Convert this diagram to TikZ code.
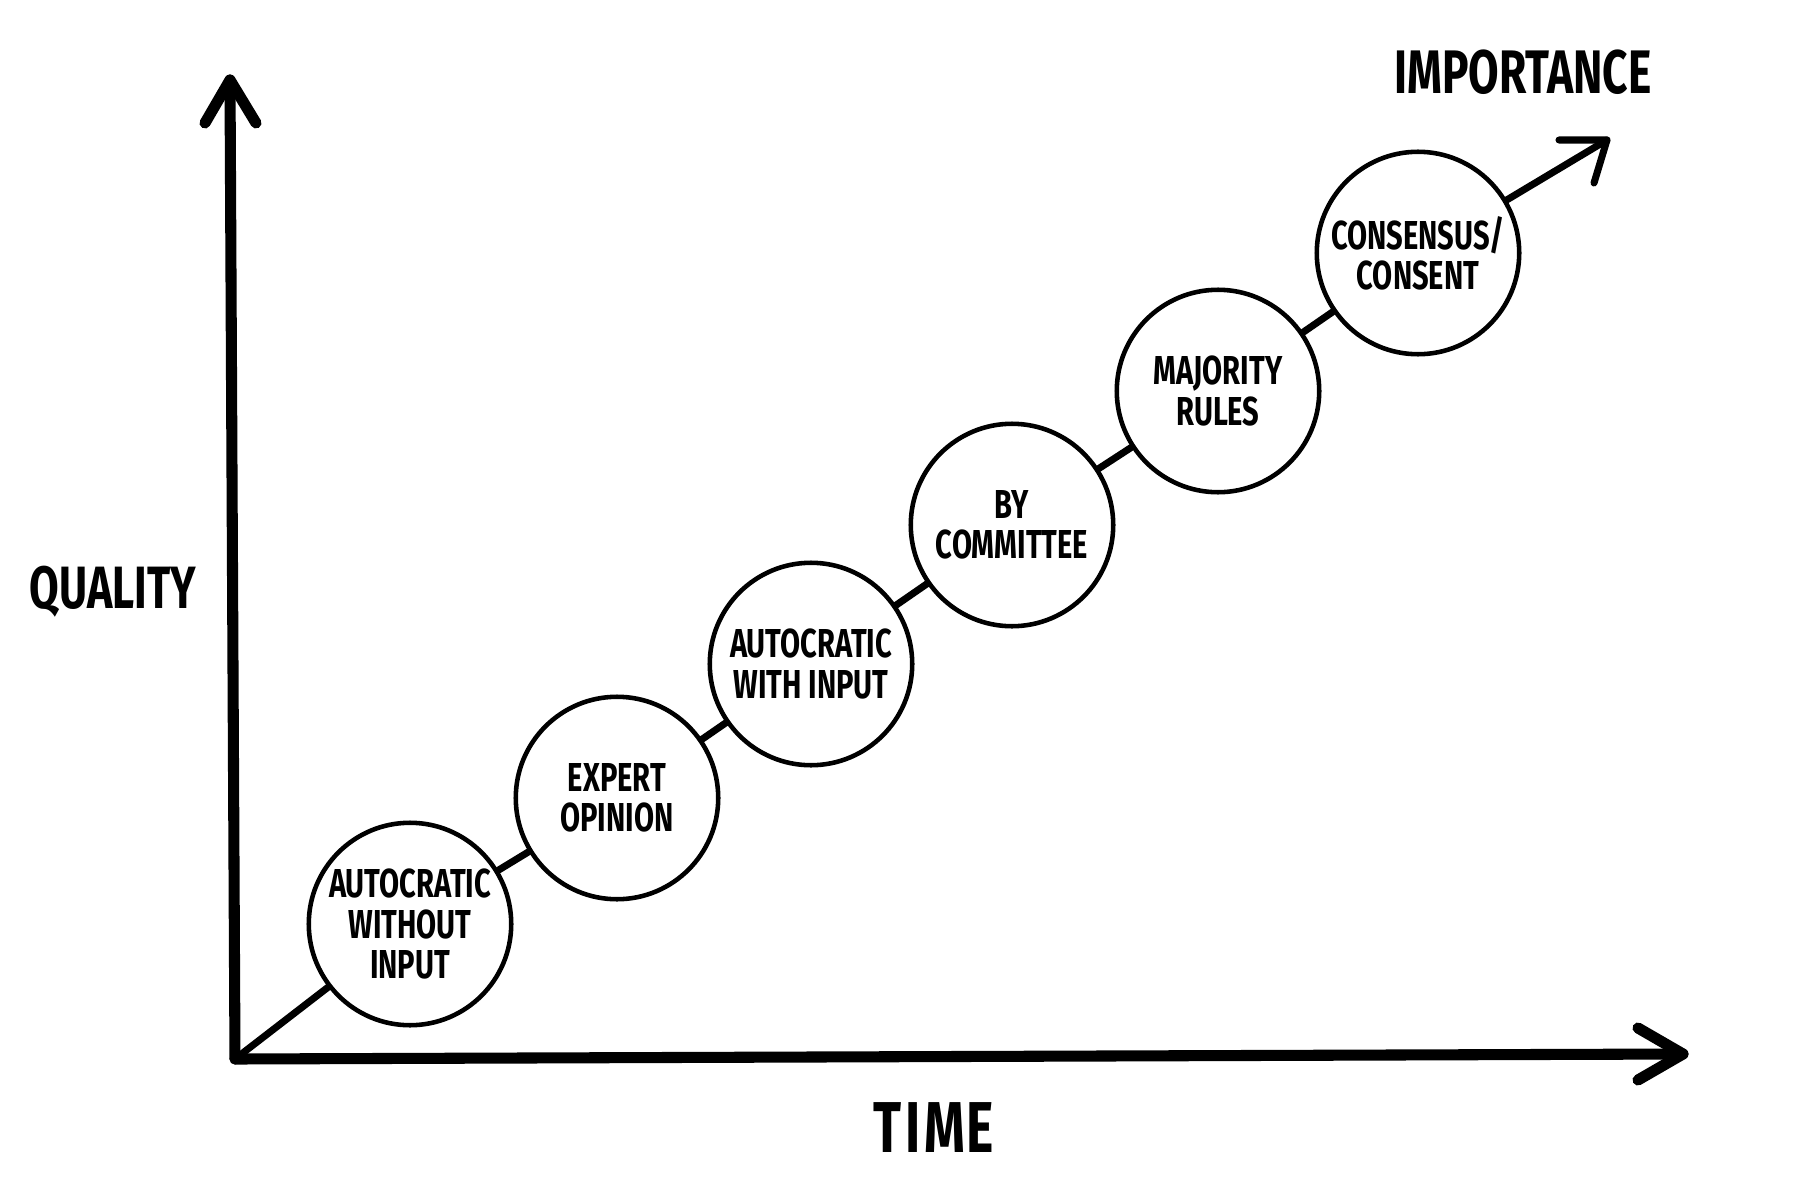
\documentclass[tikz,border=0pt]{standalone}
\usepackage{fontspec}
\setmainfont{Fira Sans}[FakeStretch=0.72]
\begin{document}
\begin{tikzpicture}[x=0.02cm,y=-0.02cm,
  axisline/.style={line width=6.3pt, line cap=round, line join=round},
  trend/.style={line width=4pt, line cap=round, line join=round},
  stage/.style={circle, draw, fill=white, line width=2.6pt, minimum size=4.05cm,
    inner sep=0pt, align=center, font=\bfseries\fontsize{23}{22.8}\selectfont},
  axislabel/.style={font=\bfseries\fontsize{34}{34}\selectfont}]
\useasboundingbox (0,0) rectangle (1800,1200);
% coordinates
\coordinate (O) at (235,1059);
\coordinate (ytip) at (230,80);
\coordinate (ya1) at (205,123);
\coordinate (ya2) at (256,123);
\coordinate (xtip) at (1683,1054);
\coordinate (xa1) at (1638,1028);
\coordinate (xa2) at (1638,1080);
\coordinate (dtip) at (1607,140);
\coordinate (da1) at (1559,140);
\coordinate (da2) at (1594,183);
% stages
\node[stage] (c1) at (410,924) {AUTOCRATIC\\WITHOUT\\INPUT};
\node[stage] (c2) at (617,798) {EXPERT\\OPINION};
\node[stage] (c3) at (811,664) {AUTOCRATIC\\WITH INPUT};
\node[stage] (c4) at (1012,525) {BY\\COMMITTEE};
\node[stage] (c5) at (1218,391) {MAJORITY\\RULES};
\node[stage] (c6) at (1418,253) {CONSENSUS/\\CONSENT};
% trend connectors
\draw[trend] (O) -- (c1);
\draw[trend] (c1) -- (c2);
\draw[trend] (c2) -- (c3);
\draw[trend] (c3) -- (c4);
\draw[trend] (c4) -- (c5);
\draw[trend] (c5) -- (c6);
\draw[trend] (c6) -- (dtip);
\draw[trend] (da1) -- (dtip) -- (da2);
% axes
\draw[axisline] (O) -- (ytip);
\draw[axisline] (ya1) -- (ytip) -- (ya2);
\draw[axisline] (O) -- (xtip);
\draw[axisline] (xa1) -- (xtip) -- (xa2);
% labels
\node[axislabel] (quality) at (113,592) {QUALITY};
\node[axislabel, font=\bfseries\fontsize{41}{41}\selectfont] (time) at (934,1128) {T\kern2pt I\kern2pt M\kern1pt E};
\node[axislabel, font=\bfseries\fontsize{35}{35}\selectfont] (importance) at (1523,72) {IMPORTANCE};
\end{tikzpicture}
\end{document}
